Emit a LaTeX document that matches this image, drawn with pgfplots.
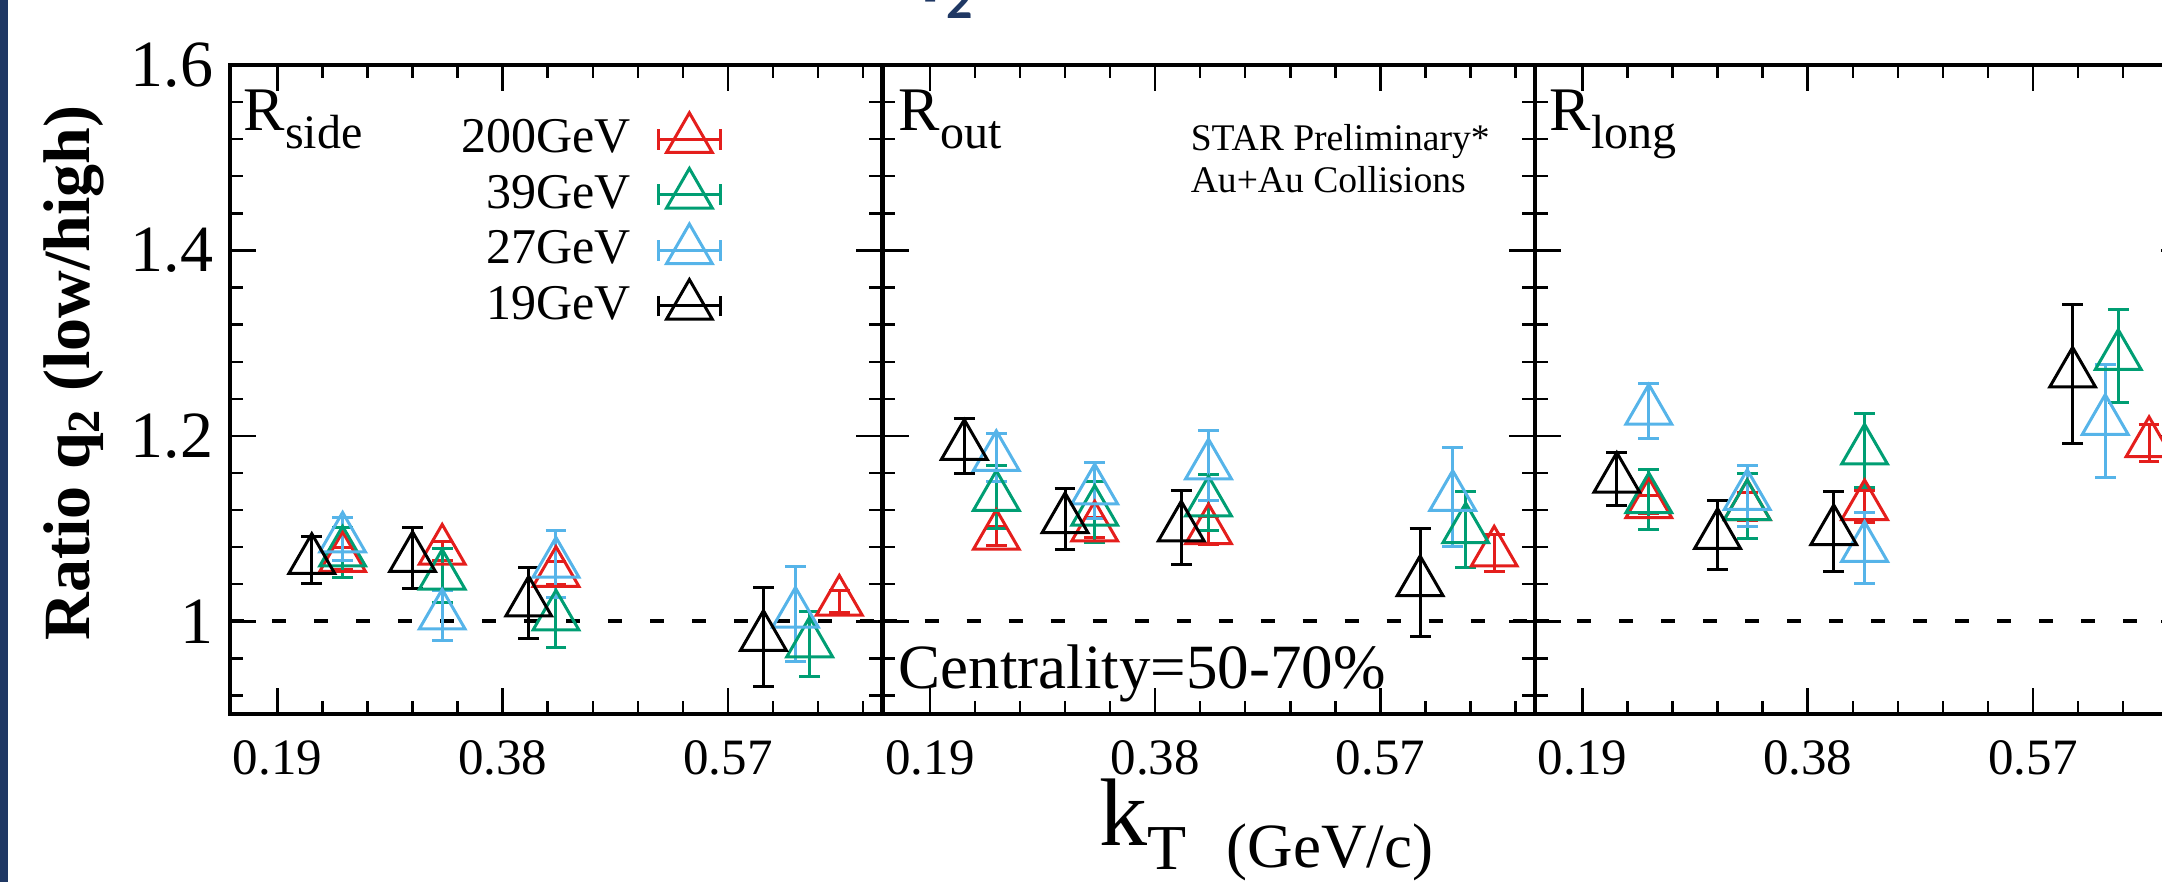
\documentclass[border=0pt]{standalone}
\usepackage{fontspec}
\setmainfont{Liberation Serif}
\newfontfamily\titlefont{Carlito}
\usepackage{pgfplots}
\pgfplotsset{compat=1.18}

\definecolor{cred}{RGB}{228,30,28}
\definecolor{cgreen}{RGB}{0,158,115}
\definecolor{cblue}{RGB}{86,180,233}
\definecolor{navy}{RGB}{31,56,100}

% 1 px of the reference = 0.25pt
\def\s{0.25pt}

\pgfplotsset{
  panel/.style={
    scale only axis, width=163pt, height=162.25pt, anchor=south west,
    xmin=0.15, xmax=0.70, ymin=0.9, ymax=1.6,
    xtick={0.19,0.38,0.57}, xticklabels={0.19,0.38,0.57},
    minor xtick={0.228,0.266,0.304,0.342,0.418,0.456,0.494,0.532,0.608,0.646,0.684},
    ytick={1,1.2,1.4,1.6}, yticklabels={1,1.2,1.4,1.6},
    minor ytick={0.92,0.96,1.04,1.08,1.12,1.16,1.24,1.28,1.32,1.36,1.44,1.48,1.52,1.56},
    tick align=inside,
    major tick length=6.5pt, minor tick length=3.2pt,
    tick style={line width=0.6pt, black},
    axis line style={line width=1pt},
    xticklabel style={font=\fontsize{12.75pt}{14pt}\selectfont, inner sep=0pt},
    xticklabel shift=6.5pt,
    yticklabel style={font=\fontsize{16.5pt}{18pt}\selectfont, inner sep=0pt},
    yticklabel shift=4pt,
  },
  pt/.style={only marks, mark=triangle, mark size=6.6pt, line width=0.75pt,
    mark options={solid, line width=0.75pt},
    error bars/y dir=both, error bars/y explicit,
    error bars/error bar style={line width=0.75pt, solid},
    error bars/error mark options={rotate=90, line width=0.75pt, mark size=2.6pt, solid},
    legend image code/.code={
      \draw[##1, mark=none, solid, line width=0.75pt]
        (-7.8pt,0pt) -- (7.8pt,0pt)
        (-7.8pt,-2.6pt) -- (-7.8pt,2.6pt)
        (7.8pt,-2.6pt) -- (7.8pt,2.6pt);
      \draw[##1] plot coordinates {(0pt,0pt)};
    }},
  unity/.style={black, line width=1pt, dash pattern=on 3.5pt off 7pt, forget plot},
}

\newcommand{\rlab}[1]{\fontsize{15.5pt}{18pt}\selectfont R\raisebox{-4.5pt}{\fontsize{12pt}{14pt}\selectfont #1}}

\begin{document}
\begin{tikzpicture}
\fill[navy] (0,0) rectangle ({8*\s},{-882*\s});
\node[anchor=base west, inner sep=0pt, text=navy, font=\titlefont\bfseries\fontsize{20pt}{24pt}\selectfont] at ({897*\s},{11*\s}) {q};
\node[anchor=base west, inner sep=0pt, text=navy, font=\titlefont\bfseries\fontsize{13pt}{15pt}\selectfont] at ({946*\s},{-18*\s}) {2};

% R_side
\begin{axis}[panel, at={({230*\s},{-714*\s})},
  legend plot pos=right, legend cell align=right,
  legend style={draw=none, fill=none, at={(0.756,0.9276)}, anchor=north east,
    inner sep=0pt, nodes={inner sep=0pt}, row sep=2.4pt, column sep=6.5pt,
    font=\fontsize{12.5pt}{14pt}\selectfont}]
\addplot[unity] coordinates {(0.15,1) (0.70,1)};
\addplot[pt, cred] coordinates {
  (0.245,1.068) +- (0,0.012) (0.329,1.076) +- (0,0.010)
  (0.425,1.052) +- (0,0.012) (0.664,1.021) +- (0,0.012)};
\addlegendentry{200GeV}
\addplot[pt, cgreen] coordinates {
  (0.245,1.074) +- (0,0.027) (0.329,1.049) +- (0,0.029)
  (0.425,1.005) +- (0,0.033) (0.639,0.976) +- (0,0.035)};
\addlegendentry{39GeV}
\addplot[pt, cblue] coordinates {
  (0.245,1.089) +- (0,0.023) (0.329,1.006) +- (0,0.027)
  (0.425,1.062) +- (0,0.036) (0.627,1.008) +- (0,0.051)};
\addlegendentry{27GeV}
\addplot[pt, black] coordinates {
  (0.219,1.066) +- (0,0.025) (0.304,1.068) +- (0,0.033)
  (0.402,1.020) +- (0,0.038) (0.600,0.983) +- (0,0.053)};
\addlegendentry{19GeV}
\end{axis}

% R_out
\begin{axis}[panel, at={({882.5*\s},{-714*\s})}, yticklabels={}]
\addplot[unity] coordinates {(0.15,1) (0.70,1)};
\addplot[pt, cred] coordinates {
  (0.246,1.092) +- (0,0.010) (0.329,1.101) +- (0,0.011)
  (0.425,1.098) +- (0,0.015) (0.666,1.074) +- (0,0.020)};
\addplot[pt, cgreen] coordinates {
  (0.246,1.134) +- (0,0.034) (0.329,1.118) +- (0,0.033)
  (0.425,1.128) +- (0,0.030) (0.642,1.099) +- (0,0.041)};
\addplot[pt, cblue] coordinates {
  (0.246,1.177) +- (0,0.026) (0.329,1.141) +- (0,0.030)
  (0.425,1.168) +- (0,0.038) (0.631,1.134) +- (0,0.053)};
\addplot[pt, black] coordinates {
  (0.219,1.189) +- (0,0.030) (0.304,1.110) +- (0,0.033)
  (0.402,1.101) +- (0,0.040) (0.6035,1.042) +- (0,0.058)};
\end{axis}

% R_long
\begin{axis}[panel, at={({1535*\s},{-714*\s})}, yticklabels={}]
\addplot[unity] coordinates {(0.15,1) (0.70,1)};
\addplot[pt, cred] coordinates {
  (0.246,1.126) +- (0,0.010) (0.329,1.124) +- (0,0.015)
  (0.428,1.124) +- (0,0.017) (0.668,1.192) +- (0,0.020)};
\addplot[pt, cgreen] coordinates {
  (0.246,1.1315) +- (0,0.032) (0.329,1.124) +- (0,0.035)
  (0.428,1.184) +- (0,0.040) (0.642,1.286) +- (0,0.050)};
\addplot[pt, cblue] coordinates {
  (0.246,1.227) +- (0,0.030) (0.329,1.135) +- (0,0.033)
  (0.428,1.079) +- (0,0.038) (0.631,1.216) +- (0,0.061)};
\addplot[pt, black] coordinates {
  (0.219,1.1535) +- (0,0.029) (0.304,1.093) +- (0,0.037)
  (0.402,1.097) +- (0,0.043) (0.6035,1.267) +- (0,0.075)};
\end{axis}

\node[rotate=90, anchor=base, inner sep=0pt, font=\bfseries\fontsize{16.5pt}{18pt}\selectfont]
  at ({89*\s},{-373*\s}) {Ratio q\textsubscript{2} (low/high)};
\node[anchor=base west, inner sep=0pt] at ({243*\s},{-130*\s}) {\rlab{side}};
\node[anchor=base west, inner sep=0pt] at ({898*\s},{-130*\s}) {\rlab{out}};
\node[anchor=base west, inner sep=0pt] at ({1549*\s},{-130*\s}) {\rlab{long}};
\node[anchor=base west, inner sep=0pt, font=\fontsize{15.75pt}{18pt}\selectfont]
  at ({898*\s},{-688*\s}) {Centrality=50-70\%};
\node[anchor=base west, inner sep=0pt, font=\fontsize{9.4pt}{11pt}\selectfont]
  at ({1190*\s},{-150*\s}) {STAR Preliminary*};
\node[anchor=base west, inner sep=0pt, font=\fontsize{9.4pt}{11pt}\selectfont]
  at ({1190*\s},{-192*\s}) {Au+Au Collisions};
\node[anchor=base west, inner sep=0pt]
  at ({1099*\s},{-845*\s}) {\fontsize{24pt}{28pt}\selectfont k\raisebox{-6pt}{\fontsize{16pt}{18pt}\selectfont T}\hspace{10pt}\raisebox{-5.5pt}{\fontsize{15.75pt}{18pt}\selectfont (GeV/c)}};

\pgfresetboundingbox
\useasboundingbox (0,0) rectangle ({2162*\s},{-882*\s});
\end{tikzpicture}
\end{document}
